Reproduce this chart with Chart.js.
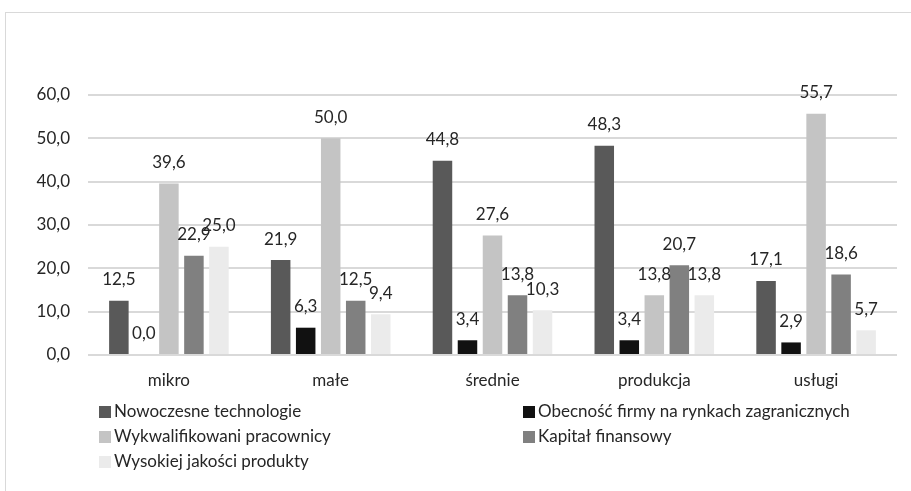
<!DOCTYPE html>
<html>
<head>
<meta charset="utf-8">
<script src="https://cdn.jsdelivr.net/npm/chart.js@4.4.1/dist/chart.umd.min.js"></script>
<style>
  html, body { margin: 0; padding: 0; background: #fff; }
  #wrap { position: relative; width: 911px; height: 491px; overflow: hidden; }
  #frame { position: absolute; left: 5px; top: 12px; width: 920px; height: 500px; border: 1px solid #d9d9d9; box-sizing: border-box; }
  canvas { position: absolute; left: 0; top: 0; }
</style>
</head>
<body>
<div id="wrap">
  <div id="frame"></div>
  <canvas id="c" width="911" height="491"></canvas>
</div>
<script>
const categories = ['mikro', 'małe', 'średnie', 'produkcja', 'usługi'];
const seriesNames = [
  'Nowoczesne technologie',
  'Obecność firmy na rynkach zagranicznych',
  'Wykwalifikowani pracownicy',
  'Kapitał finansowy',
  'Wysokiej jakości produkty'
];
const nowoczesne   = [12.5, 21.9, 44.8, 48.3, 17.1];
const obecnosc     = [0.0, 6.3, 3.4, 3.4, 2.9];
const wykwalif     = [39.6, 50.0, 27.6, 13.8, 55.7];
const kapital      = [22.9, 12.5, 13.8, 20.7, 18.6];
const jakosc       = [25.0, 9.4, 10.3, 13.8, 5.7];
const yTicks       = [0, 10, 20, 30, 40, 50, 60];

const colors = ['#595959', '#111111', '#c4c4c4', '#808080', '#ebebeb'];
const FONT = 'Lato, "Open Sans", sans-serif';
const FSIZE = 17;
const TEXT = '#262626';
const fmt = v => v.toFixed(1).replace('.', ',');

const seriesValues = [nowoczesne, obecnosc, wykwalif, kapital, jakosc];

// value labels above each bar
const valueLabels = {
  id: 'valueLabels',
  afterDatasetsDraw(chart) {
    const ctx = chart.ctx;
    ctx.save();
    ctx.font = FSIZE + 'px ' + FONT;
    ctx.fillStyle = TEXT;
    ctx.textAlign = 'center';
    ctx.textBaseline = 'middle';
    chart.data.datasets.forEach((ds, i) => {
      chart.getDatasetMeta(i).data.forEach((bar, j) => {
        ctx.fillText(fmt(ds.data[j]), bar.x, bar.y - 21);
      });
    });
    ctx.restore();
  }
};

// two-column legend below the axis
const gridLegend = {
  id: 'gridLegend',
  afterDraw(chart) {
    const ctx = chart.ctx;
    const colX = [99, 523];
    const rowY = [412, 437, 462];
    ctx.save();
    ctx.font = FSIZE + 'px ' + FONT;
    ctx.textBaseline = 'middle';
    ctx.textAlign = 'left';
    chart.data.datasets.forEach((ds, i) => {
      const x = colX[i % 2];
      const y = rowY[Math.floor(i / 2)];
      ctx.fillStyle = ds.backgroundColor;
      ctx.fillRect(x, y - 6, 12, 12);
      ctx.fillStyle = TEXT;
      ctx.fillText(ds.label, x + 15, y);
    });
    ctx.restore();
  }
};

new Chart(document.getElementById('c'), {
  type: 'bar',
  data: {
    labels: categories,
    datasets: seriesNames.map((name, i) => ({
      label: name,
      data: seriesValues[i],
      backgroundColor: colors[i],
      categoryPercentage: 0.773,
      barPercentage: 0.78
    }))
  },
  options: {
    responsive: false,
    animation: false,
    devicePixelRatio: 1,
    layout: { padding: { left: 0, right: 14, top: 95, bottom: 0 } },
    plugins: {
      legend: { display: false },
      tooltip: { enabled: false }
    },
    scales: {
      x: {
        grid: { display: false, drawTicks: false },
        border: { display: false },
        ticks: { color: TEXT, font: { family: FONT, size: FSIZE }, padding: 15 },
        afterFit(s) { s.height = 136; }
      },
      y: {
        min: 0,
        max: 60,
        afterBuildTicks(s) { s.ticks = yTicks.map(v => ({ value: v })); },
        grid: { color: '#d9d9d9', lineWidth: 2, drawTicks: false },
        border: { display: false },
        ticks: {
          color: TEXT,
          font: { family: FONT, size: FSIZE },
          padding: 18,
          callback: v => fmt(v)
        },
        afterFit(s) { s.width = 88; }
      }
    }
  },
  plugins: [valueLabels, gridLegend]
});
</script>
</body>
</html>
